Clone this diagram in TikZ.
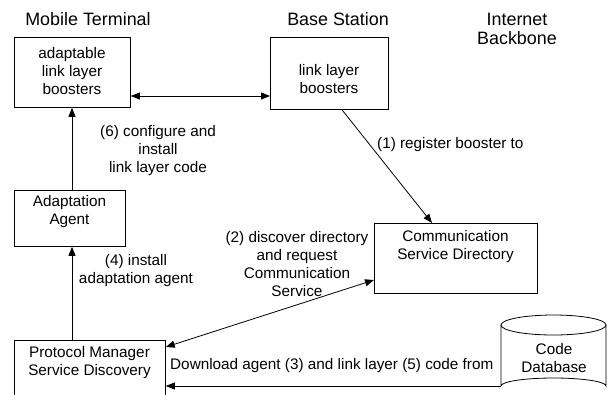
\documentclass[tikz,border=0pt]{standalone}
\usepackage{fontspec}
\setmainfont{Liberation Sans}
\usetikzlibrary{arrows.meta}
\begin{document}
\begin{tikzpicture}[x=1pt,y=-1pt,
  box/.style={draw, line width=0.8pt, inner sep=0pt, anchor=north west},
  txt/.style={font=\fontsize{15.3}{18}\selectfont, align=center, inner sep=0pt},
  hdr/.style={font=\fontsize{17.9}{19}\selectfont, align=center, inner sep=0pt},
  conn/.style={line width=0.8pt},
  tip/.style={-{Triangle[length=9pt,width=7pt]}},
  tips/.style={{Triangle[length=9pt,width=7pt]}-{Triangle[length=9pt,width=7pt]}}
]
\useasboundingbox (0,0) rectangle (607,394);
% headers
\node[hdr] (hmt) at (88,19) {Mobile Terminal};
\node[hdr] (hbs) at (338,19) {Base Station};
\node[hdr, text depth=0pt] (hib) at (517,29) {Internet\\Backbone};
% boxes
\node[box, minimum width=116pt, minimum height=70pt] (alb) at (14,37) {};
\node[txt] (albt) at (72,71) {adaptable\\link layer\\boosters};
\node[box, minimum width=118pt, minimum height=72pt] (lb) at (270,37) {};
\node[txt] (lbt) at (329,79) {link layer\\boosters};
\node[box, minimum width=111pt, minimum height=56pt] (aa) at (14,190) {};
\node[txt] (aat) at (69.5,212) {Adaptation\\Agent};
\node[box, minimum width=151pt, minimum height=70pt] (pm) at (14,340) {};
\node[txt] (pmt) at (89.5,363) {Protocol Manager\\Service Discovery};
\node[box, minimum width=163pt, minimum height=70pt] (csd) at (374,223) {};
\node[txt] (csdt) at (455.5,247) {Communication\\Service Directory};
% cylinder
\node[inner sep=0pt, minimum width=105pt, minimum height=71pt, anchor=north west] (db) at (501,315) {};
\draw[line width=0.8pt, fill=white] (501,325) -- (501,386) arc[start angle=180, end angle=360, x radius=52.5, y radius=8] -- (606,325);
\draw[line width=0.8pt] (553.5,325) ellipse [x radius=52.5, y radius=10];
\node[txt] (dbt) at (554,358) {Code\\Database};
% connectors
\draw[conn, tips] (alb.east |- 0,96) -- (lb.west |- 0,96);
\draw[conn, tip] (aa.north -| 72,0) -- (alb.south -| 72,0);
\draw[conn, tip] (pm.north -| 72,0) -- (aa.south -| 72,0);
\draw[conn, tip] (lb.south -| 342,0) -- (csd.north -| 432,0);
\draw[conn, tips] (pm.east |- 0,347) -- (csd.west |- 0,280);
\coordinate (dbl) at (501,386);
\draw[conn, tip] (dbl) -- (pm.east |- dbl);
% labels
\node[txt] (l6) at (158,151) {(6) configure and\\install\\link layer code};
\node[txt, anchor=west] (l1) at (377,145) {(1) register booster to};
\node[txt] (l2) at (297,264) {(2) discover directory\\and request\\Communication\\Service};
\node[txt] (l4) at (136,271) {(4) install\\adaptation agent};
\node[txt, anchor=west] (l3) at (170,366) {Download agent (3) and link layer (5) code from};
\end{tikzpicture}
\end{document}
